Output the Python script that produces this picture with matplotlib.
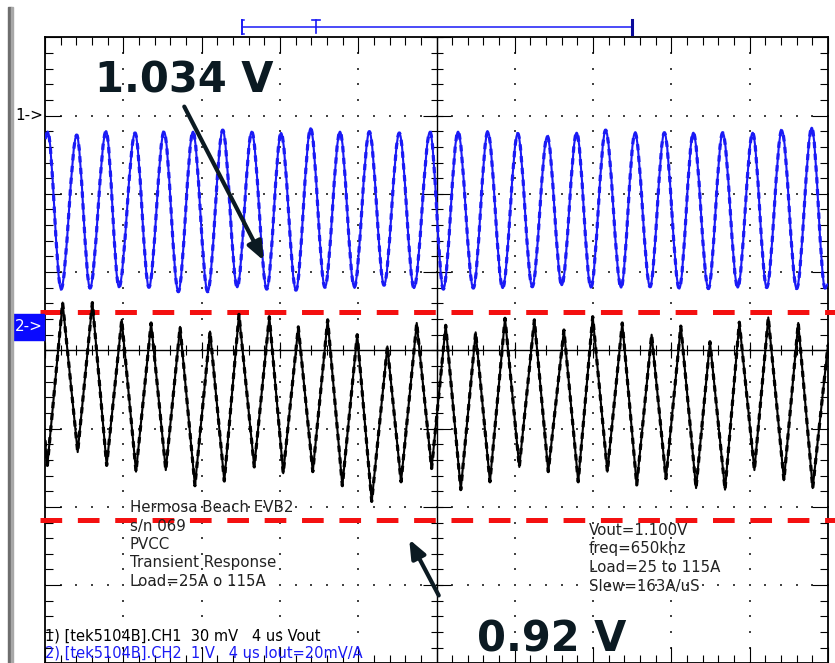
import numpy as np
import matplotlib
matplotlib.use("Agg")
import matplotlib.pyplot as plt
import matplotlib.patches as patches
from matplotlib.path import Path

plt.rcParams["lines.scale_dashes"] = False
plt.rcParams["font.family"] = ["DejaVu Sans"]

# time base: 4 us/div, 10 divisions
time_per_div = 4.0
n_xdiv = 10

# CH1 Vout, 30 mV/div, "1->" reference (1.100 V) at +3 div
vout_ref = 1.100
vout_scale = 0.030
vout_ref_div = 3.0
vout_start = (0.0, 1.0913)
vout_end = (40.0, 1.0354)
vout_peak_t = [0.14, 1.62, 3.12, 4.60, 6.08, 7.56, 9.08, 10.56, 12.06, 13.57, 15.07, 16.57, 18.10, 19.67,
               21.10, 22.62, 24.15, 25.66, 27.16, 28.64, 30.14, 31.64, 33.12, 34.62, 36.15, 37.64, 39.17]
vout_peak_v = [1.0938, 1.0925, 1.0940, 1.0933, 1.0938, 1.0938, 1.0944, 1.0938, 1.0933, 1.0951, 1.0938,
               1.0938, 1.0933, 1.0938, 1.0938, 1.0938, 1.0931, 1.0921, 1.0934, 1.0944, 1.0934, 1.0934,
               1.0934, 1.0934, 1.0934, 1.0944, 1.0953]
vout_trough_t = [0.82, 2.30, 3.78, 5.31, 6.81, 8.31, 9.82, 11.33, 12.82, 14.30, 15.80, 17.32, 18.85, 20.35,
                 21.88, 23.38, 24.89, 26.40, 27.89, 29.43, 30.91, 32.40, 33.89, 35.39, 36.87, 38.40, 39.85]
vout_trough_v = [1.0335, 1.0339, 1.0342, 1.0342, 1.0325, 1.0325, 1.0342, 1.0335, 1.0331, 1.0342, 1.0342,
                 1.0350, 1.0339, 1.0335, 1.0339, 1.0339, 1.0344, 1.0350, 1.0341, 1.0341, 1.0344, 1.0337,
                 1.0337, 1.0341, 1.0341, 1.0337, 1.0339]

# CH2 Iout probe, 1 V/div, "2->" reference at +0.3 div
iout_scale = 1.0
iout_ref_div = 0.3
iout_t = [0.0, 0.12, 0.90, 1.67, 2.42, 3.15, 3.92, 4.65, 5.42, 6.17, 6.90, 7.66, 8.43, 9.16, 9.91, 10.69,
          11.46, 12.17, 12.94, 13.68, 14.44, 15.19, 15.95, 16.69, 17.49, 18.19, 18.99, 19.75, 20.47, 21.24,
          22.00, 22.73, 23.50, 24.23, 25.00, 25.71, 26.51, 27.24, 27.98, 28.73, 29.49, 30.23, 30.99, 31.72,
          32.48, 33.26, 33.97, 34.74, 35.47, 36.24, 36.95, 37.75, 38.48, 39.22, 40.0]
iout_v = [-1.45, -1.77, 0.31, -1.60, 0.31, -1.77, 0.09, -1.85, 0.05, -1.83, 0.00, -2.03, -0.06, -1.97,
          0.16, -1.79, 0.13, -1.87, 0.00, -1.85, 0.09, -2.03, -0.10, -2.23, -0.25, -1.98, 0.05, -1.81,
          0.02, -2.08, -0.07, -1.98, 0.11, -1.79, 0.09, -1.85, -0.04, -1.98, 0.13, -1.85, 0.05, -2.02,
          -0.10, -1.94, 0.01, -2.06, -0.19, -2.08, 0.06, -1.83, 0.12, -1.96, 0.05, -2.06, -0.23]

# cursors (div) and record bar (us)
cursor_divs = [0.49, -2.167]
record_start, trigger_t, record_end = 10.05, 13.83, 29.97

info_left = ["Hermosa Beach EVB2", "s/n 069", "PVCC", "Transient Response", "Load=25A o 115A"]
info_right = ["Vout=1.100V", "freq=650khz", "Load=25 to 115A", "Slew=163A/uS"]
ch1_label = "1) [tek5104B].CH1  30 mV   4 us Vout"
ch2_label = "2) [tek5104B].CH2  1 V   4 us Iout=20mV/A"

BLUE = "#1a1af5"
DARK = "#0b1a22"
TXT = "#222222"


def smooth_path(xs, ys):
    verts = [(xs[0], ys[0])]
    codes = [Path.MOVETO]
    for i in range(1, len(xs)):
        d = (xs[i] - xs[i - 1]) / 3.0
        verts += [(xs[i - 1] + d, ys[i - 1]), (xs[i] - d, ys[i]), (xs[i], ys[i])]
        codes += [Path.CURVE4] * 3
    return Path(verts, codes)


fig = plt.figure(figsize=(8.35, 6.63), dpi=100)
fig.patch.set_facecolor("white")
ax = fig.add_axes([45 / 835, -0.4 / 663, 783 / 835, 626.1 / 663])
ax.set_xlim(0, time_per_div * n_xdiv)
ax.set_ylim(-4, 4)

# graticule
xmaj = np.arange(0, 40.01, time_per_div)
xmin = np.arange(0, 40.01, time_per_div / 5)
ymaj = np.arange(-4, 4.01, 1.0)
ymin = np.arange(-4, 4.01, 0.2)
ax.set_xticks(xmaj)
ax.set_xticks(xmin, minor=True)
ax.set_yticks(ymaj)
ax.set_yticks(ymin, minor=True)
ax.tick_params(which="both", direction="in", top=True, right=True,
               labelbottom=False, labelleft=False, width=0.8, color="black")
ax.tick_params(which="major", length=11.5)
ax.tick_params(which="minor", length=5.8)
for s in ax.spines.values():
    s.set_linewidth(1.3)

for x in xmaj[1:-1]:
    if x == 20:
        continue
    ax.scatter(np.full(len(ymin), x), ymin, s=1.0, marker="s", color="#444444", linewidths=0, zorder=1)
for y in ymaj[1:-1]:
    if y == 0:
        continue
    ax.scatter(xmin, np.full(len(xmin), y), s=1.0, marker="s", color="#444444", linewidths=0, zorder=1)

ax.axhline(0, color="black", lw=1.0, zorder=2)
ax.axvline(20, color="black", lw=1.0, zorder=2)
ax.plot(xmin, np.zeros(len(xmin)), ls="none", marker="|", ms=7.5, mew=0.8, color="black", zorder=2)
ax.plot(xmaj, np.zeros(len(xmaj)), ls="none", marker="|", ms=12, mew=0.8, color="black", zorder=2)
ax.plot(np.full(len(ymin), 20), ymin, ls="none", marker="_", ms=8.5, mew=0.8, color="black", zorder=2)
ax.plot(np.full(len(ymaj), 20), ymaj, ls="none", marker="_", ms=20, mew=0.8, color="black", zorder=2)

# cursors
for cy in cursor_divs:
    ax.plot([-0.26, 40.36], [cy, cy], color="#f41010", lw=3.6, ls=(0, (15.6, 11.3)),
            solid_capstyle="butt", dash_capstyle="butt", clip_on=False, zorder=3)

# CH1 trace
vt = [vout_start[0]]
vv = [vout_start[1]]
for pt, pv, tt, tv in zip(vout_peak_t, vout_peak_v, vout_trough_t, vout_trough_v):
    vt += [pt, tt]
    vv += [pv, tv]
vt.append(vout_end[0])
vv.append(vout_end[1])
vdiv = vout_ref_div + (np.array(vv) - vout_ref) / vout_scale
p1 = smooth_path(vt, vdiv)
ax.add_patch(patches.PathPatch(p1, fill=False, edgecolor=BLUE, lw=1.5, zorder=4))
ax.add_patch(patches.PathPatch(p1, fill=False, edgecolor=BLUE, lw=2.3, ls=(0, (4.5, 4.0)), zorder=4))

# CH2 trace
idiv = iout_ref_div + np.array(iout_v) / iout_scale
ax.plot(iout_t, idiv, color="black", lw=1.5, zorder=4)
ax.plot(iout_t, idiv, color="black", lw=2.3, ls=(0, (4.5, 4.0)), zorder=4)

# channel markers
ax.text(-1.53, vout_ref_div, "1->", fontsize=11, color="black", ha="left", va="center", clip_on=False)
ax.add_patch(patches.Rectangle((-1.635, iout_ref_div - 0.166), 1.584, 0.332, color="#0a0aff",
                               clip_on=False, zorder=5))
ax.text(-0.84, iout_ref_div, "2->", fontsize=11, color="white", ha="center", va="center",
        clip_on=False, zorder=6)

# record bar
bar_y = 4.129
ax.plot([record_start, record_end], [bar_y, bar_y], color=BLUE, lw=1.1, clip_on=False)
ax.plot([record_start, record_start], [4.04, 4.219], color=BLUE, lw=1.4, clip_on=False)
ax.plot([record_start, record_start + 0.12], [4.219, 4.219], color=BLUE, lw=1.1, clip_on=False)
ax.plot([record_start, record_start + 0.12], [4.04, 4.04], color=BLUE, lw=1.1, clip_on=False)
ax.plot([record_end, record_end], [4.04, 4.219], color="#0a0a9a", lw=2.2, clip_on=False)
ax.plot([trigger_t, trigger_t], [4.05, 4.219], color=BLUE, lw=1.2, clip_on=False)
ax.plot([trigger_t - 0.2, trigger_t + 0.2], [4.219, 4.219], color=BLUE, lw=1.2, clip_on=False)

# info text
for i, s in enumerate(info_left):
    ax.text(4.34, -2.068 - 0.2345 * i, s, fontsize=10.8, color=TXT, ha="left", va="baseline")
for i, s in enumerate(info_right):
    ax.text(27.79, -2.356 - 0.2385 * i, s, fontsize=10.8, color=TXT, ha="left", va="baseline")
ax.text(0.0, -3.706, ch1_label, fontsize=10.5, color="black", ha="left", va="baseline")
ax.text(0.0, -3.923, ch2_label, fontsize=10.5, color=BLUE, ha="left", va="baseline")

# callouts
ax.text(2.55, 3.29, "1.034 V", fontsize=30, fontweight="bold", color=DARK, ha="left", va="baseline")
ax.annotate("", xy=(11.24, 1.115), xytext=(7.05, 3.146),
            arrowprops=dict(arrowstyle="-|>,head_length=1.1,head_width=0.45", lw=3, color=DARK), zorder=6)
ax.text(22.07, -3.85, "0.92 V", fontsize=30, fontweight="bold", color=DARK, ha="left", va="baseline")
ax.annotate("", xy=(18.54, -2.384), xytext=(20.18, -3.163),
            arrowprops=dict(arrowstyle="-|>,head_length=1.1,head_width=0.45", lw=3, color=DARK), zorder=6)

# left bezel
fig.patches.append(patches.Rectangle((8 / 835, 0), 3 / 835, 656 / 663, transform=fig.transFigure,
                                     color="#6e6e6e", zorder=0))
fig.patches.append(patches.Rectangle((11 / 835, 0), 2 / 835, 656 / 663, transform=fig.transFigure,
                                     color="#a8a8a8", zorder=0))

fig.savefig("out.png", dpi=100)
